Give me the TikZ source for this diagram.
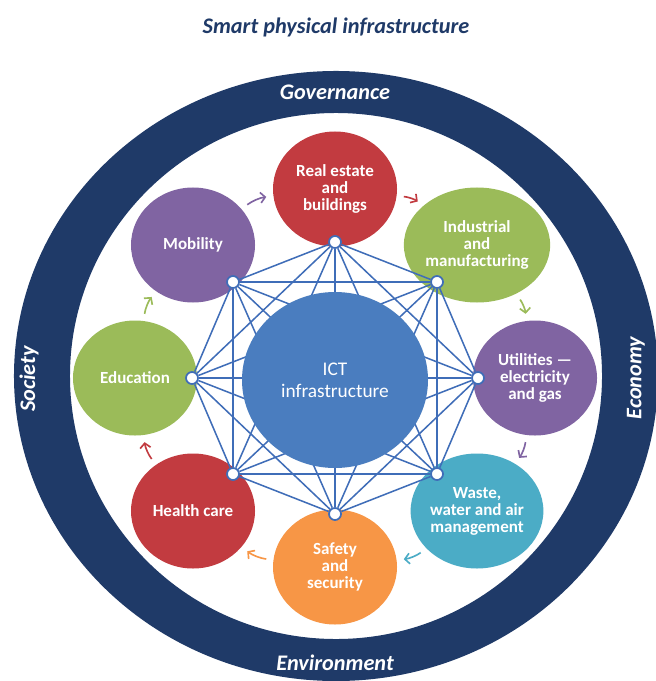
\documentclass[tikz,border=0pt]{standalone}
\usepackage{fontspec}
\setmainfont{Carlito}
\usetikzlibrary{shapes.geometric,arrows.meta}
\definecolor{navyC}{HTML}{1F3A68}
\definecolor{redC}{HTML}{C23B40}
\definecolor{greenC}{HTML}{9BBB59}
\definecolor{purpleC}{HTML}{8064A2}
\definecolor{tealC}{HTML}{4BACC6}
\definecolor{orangeC}{HTML}{F79646}
\definecolor{blueC}{HTML}{4A7DBF}
\definecolor{lineC}{HTML}{3F6DB8}
\begin{document}
\begin{tikzpicture}[x=0.03cm, y=-0.03cm,
  cat/.style={ellipse, minimum width=3.72cm, minimum height=3.45cm, inner sep=0pt, text=white, align=center, font=\bfseries\fontsize{14.5}{14.5}\selectfont},
  hub/.style={circle, fill=white, draw=lineC, line width=1.5pt, minimum size=0.36cm, inner sep=0pt},
  net/.style={draw=lineC, line width=1.3pt},
  flow/.style={-{Straight Barb[length=4pt,width=9pt]}, line width=1.4pt, shorten <=6pt, shorten >=6pt},
  ringtext/.style={text=white, font=\bfseries\itshape\fontsize{19}{19}\selectfont}]
\clip (0,0) rectangle (656,681);
\fill[white] (0,0) rectangle (656,681);
\fill[navyC, even odd rule] (336,376) ellipse [x radius=9.66cm, y radius=9.15cm] (336,376) ellipse [x radius=7.98cm, y radius=7.89cm];
\node[cat, fill=redC] (real) at (335,189){Real estate\\and\\buildings};
\node[cat, fill=greenC] (ind) at (477,245){Industrial\\and\\manufacturing};
\node[cat, fill=purpleC] (util) at (535,378){Utilities ---\\electricity\\and gas};
\node[cat, fill=tealC] (waste) at (477,511){Waste,\\water and air\\management};
\node[cat, fill=orangeC] (safe) at (335,567){Safety\\and\\security};
\node[cat, fill=redC] (health) at (193,511){Health care};
\node[cat, fill=greenC] (edu) at (135,378){Education};
\node[cat, fill=purpleC] (mob) at (193,245){Mobility};
\node[hub] (h1) at (335,242){};
\node[hub] (h2) at (437,282){};
\node[hub] (h3) at (478,378){};
\node[hub] (h4) at (437,474){};
\node[hub] (h5) at (335,514){};
\node[hub] (h6) at (233,474){};
\node[hub] (h7) at (192,378){};
\node[hub] (h8) at (233,282){};
\draw[net] (h1) -- (h2) (h1) -- (h3) (h1) -- (h4) (h1) -- (h5) (h1) -- (h6) (h1) -- (h7) (h1) -- (h8);
\draw[net] (h2) -- (h3) (h2) -- (h4) (h2) -- (h5) (h2) -- (h6) (h2) -- (h7) (h2) -- (h8);
\draw[net] (h3) -- (h4) (h3) -- (h5) (h3) -- (h6) (h3) -- (h7) (h3) -- (h8);
\draw[net] (h4) -- (h5) (h4) -- (h6) (h4) -- (h7) (h4) -- (h8);
\draw[net] (h5) -- (h6) (h5) -- (h7) (h5) -- (h8);
\draw[net] (h6) -- (h7) (h6) -- (h8);
\draw[net] (h7) -- (h8);
\node[ellipse, fill=blueC, minimum width=5.58cm, minimum height=5.28cm, inner sep=0pt, text=white, align=center, font=\fontsize{16.5}{19}\selectfont] (ict) at (335,380){ICT\\infrastructure};
\draw[flow, purpleC] (mob) to[bend left=15] (real);
\draw[flow, redC] (real) to[bend left=15] (ind);
\draw[flow, greenC] (ind) to[bend left=15] (util);
\draw[flow, purpleC] (util) to[bend left=15] (waste);
\draw[flow, tealC] (waste) to[bend left=15] (safe);
\draw[flow, orangeC] (safe) to[bend left=15] (health);
\draw[flow, redC] (health) to[bend left=15] (edu);
\draw[flow, greenC] (edu) to[bend left=15] (mob);
\node[ringtext] (gov) at (335,92){Governance};
\node[ringtext] (env) at (335,663){Environment};
\node[ringtext, rotate=90] (soc) at (29,379){Society};
\node[ringtext, rotate=90] (eco) at (636,378){Economy};
\node[text=navyC, font=\bfseries\itshape\fontsize{19}{19}\selectfont] (title) at (336,27){Smart physical infrastructure};
\end{tikzpicture}
\end{document}
